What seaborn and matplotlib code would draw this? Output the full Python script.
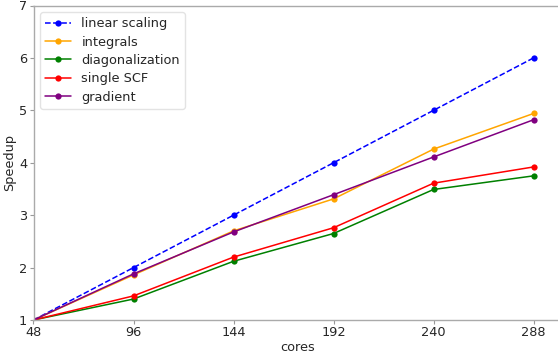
import matplotlib
matplotlib.use("Agg")
import matplotlib.pyplot as plt
import seaborn as sns
import pandas as pd

cores = [48, 96, 144, 192, 240, 288]
linear_scaling = [1, 2, 3, 4, 5, 6]
integrals = [1, 1.86, 2.70, 3.31, 4.26, 4.94]
diagonalization = [1, 1.40, 2.12, 2.65, 3.49, 3.75]
single_scf = [1, 1.46, 2.20, 2.76, 3.61, 3.92]
gradient = [1, 1.88, 2.68, 3.39, 4.11, 4.82]

series_names = ["linear scaling", "integrals", "diagonalization", "single SCF", "gradient"]
series_values = [linear_scaling, integrals, diagonalization, single_scf, gradient]
colors = ["blue", "orange", "green", "red", "purple"]
styles = ["--", "-", "-", "-", "-"]

sns.set_style("white")
plt.rcParams["font.family"] = ["DejaVu Sans"]

fig = plt.figure(figsize=(5.58, 3.56), dpi=100)
ax = fig.add_axes([33.5 / 558, 1 - 320 / 356, 529 / 558, 314.5 / 356])

for name, vals, c, ls in zip(series_names, series_values, colors, styles):
    df = pd.DataFrame({"cores": cores, "speedup": vals})
    sns.lineplot(data=df, x="cores", y="speedup", ax=ax, color=c, linestyle=ls,
                 marker="o", markersize=4.5, markeredgewidth=0, linewidth=1.1,
                 label=name)

ax.set_xlim(48, 301.9)
ax.set_ylim(1, 7)
ax.set_xticks(cores)
ax.set_xticklabels([str(c) for c in cores])
ax.set_yticks([1, 2, 3, 4, 5, 6, 7])
ax.set_xlabel("cores", fontsize=9.3, labelpad=1)
ax.set_ylabel("Speedup", fontsize=9.3, labelpad=2)
ax.tick_params(axis="both", labelsize=9.3, length=3, width=0.8, color="#999999",
               direction="out", bottom=True, left=True, pad=1.5)
for s in ax.spines.values():
    s.set_color("#aaaaaa")
    s.set_linewidth(1.0)
ax.spines["right"].set_visible(False)

leg = ax.legend(loc="upper left", prop={"size": 9.3}, frameon=True, framealpha=0.8,
                edgecolor="#dddddd", handlelength=2, borderaxespad=0.5,
                labelspacing=0.42)

fig.savefig("out.png", dpi=100)
